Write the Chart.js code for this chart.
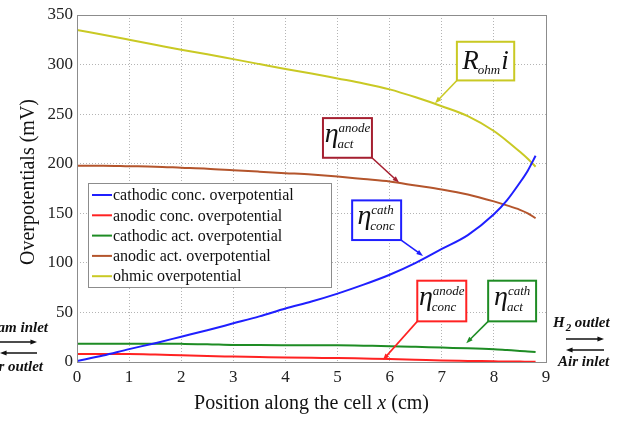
<!DOCTYPE html>
<html>
<head>
<meta charset="utf-8">
<script src="https://cdn.jsdelivr.net/npm/chart.js@4/dist/chart.umd.min.js"></script>
<style>
  body { margin: 0; background: #fff; }
  #wrap { width: 629px; height: 422px; }
</style>
</head>
<body>
<div id="wrap"><canvas id="overpotChart" width="629" height="422"></canvas></div>
<script>
// position along the cell (cm)
const xPos = [0, 0.5, 1, 1.5, 2, 2.5, 3, 3.5, 4, 4.5, 5, 5.5, 6, 6.5, 7, 7.5, 8, 8.25, 8.5, 8.65, 8.8];

// overpotentials (mV)
const cathConc  = [1, 6.5, 13, 19, 25.5, 32, 39, 46, 54, 61, 69, 78, 88, 100, 114, 128, 149, 163, 181, 193, 208];
const anodeConc = [8, 8, 8, 7.5, 6.7, 6, 5.5, 5, 4.5, 4.2, 4, 3.5, 3, 2.3, 1.5, 1.1, 0.7, 0.5, 0.4, 0.3, 0.2];
const cathAct   = [18.5, 18.5, 18.5, 18.4, 18.3, 18, 17.2, 17.1, 17, 16.9, 16.8, 16.4, 16, 15.3, 14.5, 13.8, 12.8, 12, 11.2, 10.6, 10];
const anodeAct  = [198, 198, 197.5, 197, 196, 195, 193.5, 192, 190.5, 189, 187, 184.5, 182, 178, 174, 169, 162, 158, 153.5, 150, 145];
const ohmic     = [335, 330, 325, 320, 315, 310.5, 305.5, 300.5, 295.5, 291, 286, 281, 275, 267, 258, 248, 233, 223, 212, 205, 197];

const seriesNames = [
  'cathodic conc. overpotential',
  'anodic conc. overpotential',
  'cathodic act. overpotential',
  'anodic act. overpotential',
  'ohmic overpotential'
];
const xTicks = [0, 1, 2, 3, 4, 5, 6, 7, 8, 9];
const yTicks = [0, 50, 100, 150, 200, 250, 300, 350];

const SERIF = '"Liberation Serif", "Times New Roman", serif';
const colors = ['#1f1fff', '#ff2222', '#1e8c24', '#b4552c', '#c9c924'];

function toPoints(vals) {
  return vals.map((v, i) => ({ x: xPos[i], y: v }));
}

// callout boxes: box corners and arrow tip in data units
const callouts = [
  { color: '#c9c924', box: [7.29, 323, 8.39, 284], from: 'bl', tip: [6.87, 261], kind: 'ohm' },
  { color: '#a51f30', box: [4.72, 246, 5.66, 206], from: 'br', tip: [6.18, 181], sup: 'anode', sub: 'act' },
  { color: '#1f1fff', box: [5.28, 163, 6.22, 123], from: 'br', tip: [6.64, 107], sup: 'cath', sub: 'conc' },
  { color: '#ff2222', box: [6.53, 82, 7.47, 41], from: 'bl', tip: [5.87, 2], sup: 'anode', sub: 'conc' },
  { color: '#1e8c24', box: [7.89, 82, 8.81, 41], from: 'bl', tip: [7.47, 19], sup: 'cath', sub: 'act' }
];

function arrow(ctx, x1, y1, x2, y2, color, head) {
  const a = Math.atan2(y2 - y1, x2 - x1);
  ctx.save();
  ctx.strokeStyle = color;
  ctx.fillStyle = color;
  ctx.lineWidth = 1.6;
  ctx.beginPath();
  ctx.moveTo(x1, y1);
  ctx.lineTo(x2 - Math.cos(a) * head * 0.6, y2 - Math.sin(a) * head * 0.6);
  ctx.stroke();
  ctx.beginPath();
  ctx.moveTo(x2, y2);
  ctx.lineTo(x2 - head * Math.cos(a - 0.35), y2 - head * Math.sin(a - 0.35));
  ctx.lineTo(x2 - head * Math.cos(a + 0.35), y2 - head * Math.sin(a + 0.35));
  ctx.closePath();
  ctx.fill();
  ctx.restore();
}

const decorations = {
  id: 'decorations',
  afterDatasetsDraw(chart) {
    const ctx = chart.ctx;
    const area = chart.chartArea;
    const sx = chart.scales.x, sy = chart.scales.y;

    // plot frame
    ctx.save();
    ctx.strokeStyle = '#8c8c8c';
    ctx.lineWidth = 1;
    ctx.strokeRect(area.left + 0.5, area.top + 0.5, area.right - area.left, area.bottom - area.top);

    // legend
    const lx = area.left + 11, ly = area.top + 168, lw = 243, lh = 104;
    ctx.fillStyle = '#fff';
    ctx.fillRect(lx, ly, lw, lh);
    ctx.strokeStyle = '#8c8c8c';
    ctx.strokeRect(lx + 0.5, ly + 0.5, lw, lh);
    ctx.font = '16px ' + SERIF;
    ctx.textBaseline = 'middle';
    ctx.textAlign = 'left';
    chart.data.datasets.forEach((ds, i) => {
      const cy = ly + 12 + i * 20.3;
      ctx.strokeStyle = ds.borderColor;
      ctx.lineWidth = 2;
      ctx.beginPath();
      ctx.moveTo(lx + 4, cy);
      ctx.lineTo(lx + 24, cy);
      ctx.stroke();
      ctx.fillStyle = '#111';
      ctx.fillText(ds.label, lx + 25, cy + 1);
    });

    // callouts
    callouts.forEach(c => {
      const x1 = sx.getPixelForValue(c.box[0]), y1 = sy.getPixelForValue(c.box[1]);
      const x2 = sx.getPixelForValue(c.box[2]), y2 = sy.getPixelForValue(c.box[3]);
      const tx = sx.getPixelForValue(c.tip[0]), ty = sy.getPixelForValue(c.tip[1]);
      const fx = c.from === 'bl' ? x1 : x2;
      arrow(ctx, fx, y2, tx, ty, c.color, 7);
      ctx.fillStyle = '#fff';
      ctx.fillRect(x1, y1, x2 - x1, y2 - y1);
      ctx.strokeStyle = c.color;
      ctx.lineWidth = 2;
      ctx.strokeRect(x1, y1, x2 - x1, y2 - y1);
      ctx.fillStyle = '#111';
      ctx.textBaseline = 'alphabetic';
      ctx.textAlign = 'left';
      const cx = (x1 + x2) / 2, cy = (y1 + y2) / 2;
      if (c.kind === 'ohm') {
        ctx.font = 'italic 27px ' + SERIF;
        const wR = ctx.measureText('R').width;
        const wi = ctx.measureText('i').width;
        ctx.font = 'italic 13px ' + SERIF;
        const wo = ctx.measureText('ohm').width;
        let px = cx - (wR + wo + wi) / 2;
        const base = cy + 8;
        ctx.font = 'italic 27px ' + SERIF;
        ctx.fillText('R', px, base);
        ctx.font = 'italic 13px ' + SERIF;
        ctx.fillText('ohm', px + wR - 1, base + 5);
        ctx.font = 'italic 27px ' + SERIF;
        ctx.fillText('i', px + wR + wo, base);
      } else {
        ctx.font = 'italic 28px ' + SERIF;
        const we = ctx.measureText('η').width;
        ctx.font = 'italic 13px ' + SERIF;
        const ws = Math.max(ctx.measureText(c.sup).width, ctx.measureText(c.sub).width);
        const px = cx - (we + ws) / 2;
        const base = cy + 4;
        ctx.font = 'italic 28px ' + SERIF;
        ctx.fillText('η', px, base);
        ctx.font = 'italic 13px ' + SERIF;
        ctx.fillText(c.sup, px + we, base - 10);
        ctx.fillText(c.sub, px + we - 1, base + 6);
      }
    });

    // axis titles
    ctx.fillStyle = '#111';
    ctx.textAlign = 'center';
    ctx.textBaseline = 'middle';
    ctx.save();
    ctx.translate(29, 182);
    ctx.rotate(-Math.PI / 2);
    ctx.font = '20px ' + SERIF;
    ctx.fillText('Overpotentials (mV)', 0, 0);
    ctx.restore();

    const partA = 'Position along the cell ', partX = 'x', partB = ' (cm)';
    ctx.font = '20px ' + SERIF;
    const wA = ctx.measureText(partA).width, wB = ctx.measureText(partB).width;
    ctx.font = 'italic 20px ' + SERIF;
    const wX = ctx.measureText(partX).width;
    let tx0 = (area.left + area.right) / 2 - (wA + wX + wB) / 2;
    ctx.textAlign = 'left';
    ctx.font = '20px ' + SERIF;
    ctx.fillText(partA, tx0, 404);
    ctx.font = 'italic 20px ' + SERIF;
    ctx.fillText(partX, tx0 + wA, 404);
    ctx.font = '20px ' + SERIF;
    ctx.fillText(partB, tx0 + wA + wX, 404);

    // flow direction notes
    ctx.font = 'bold italic 15px ' + SERIF;
    ctx.textAlign = 'right';
    ctx.fillText('Steam inlet', 48, 328);
    ctx.fillText('Air outlet', 43, 367);
    arrow(ctx, -5, 342, 37, 342, '#111', 7);
    arrow(ctx, 37, 353, 0, 353, '#111', 7);

    ctx.textAlign = 'left';
    ctx.fillText('H', 553, 323);
    const wH = ctx.measureText('H').width;
    ctx.font = 'bold italic 11px ' + SERIF;
    ctx.fillText('2', 553 + wH + 1, 328);
    ctx.font = 'bold italic 15px ' + SERIF;
    ctx.fillText('outlet', 553 + wH + 10, 323);
    ctx.fillText('Air inlet', 558, 362);
    arrow(ctx, 566, 339, 604, 339, '#111', 7);
    arrow(ctx, 604, 350, 566, 350, '#111', 7);
    ctx.restore();
  }
};

const data = {
  datasets: [cathConc, anodeConc, cathAct, anodeAct, ohmic].map((vals, i) => ({
    label: seriesNames[i],
    data: toPoints(vals),
    borderColor: colors[i],
    backgroundColor: colors[i],
    borderWidth: 2,
    pointRadius: 0,
    cubicInterpolationMode: 'monotone',
    fill: false
  }))
};

const tickFont = { family: SERIF, size: 17 };

new Chart(document.getElementById('overpotChart'), {
  type: 'line',
  data,
  options: {
    responsive: false,
    animation: false,
    layout: { padding: { left: 0, top: 15, right: 83, bottom: 0 } },
    plugins: { legend: { display: false }, tooltip: { enabled: false } },
    scales: {
      x: {
        type: 'linear',
        min: 0,
        max: 9,
        afterFit: s => { s.height = 60; },
        afterBuildTicks: s => { s.ticks = xTicks.map(v => ({ value: v })); },
        ticks: { font: tickFont, color: '#222', padding: 5, maxRotation: 0 },
        grid: { color: '#b4b4b4', drawTicks: false },
        border: { display: false, dash: [1, 2] }
      },
      y: {
        min: 0,
        max: 350,
        afterFit: s => { s.width = 77; },
        afterBuildTicks: s => { s.ticks = yTicks.map(v => ({ value: v })); },
        ticks: { font: tickFont, color: '#222', padding: 4 },
        grid: { color: '#b4b4b4', drawTicks: false },
        border: { display: false, dash: [1, 2] }
      }
    }
  },
  plugins: [decorations]
});
</script>
</body>
</html>
